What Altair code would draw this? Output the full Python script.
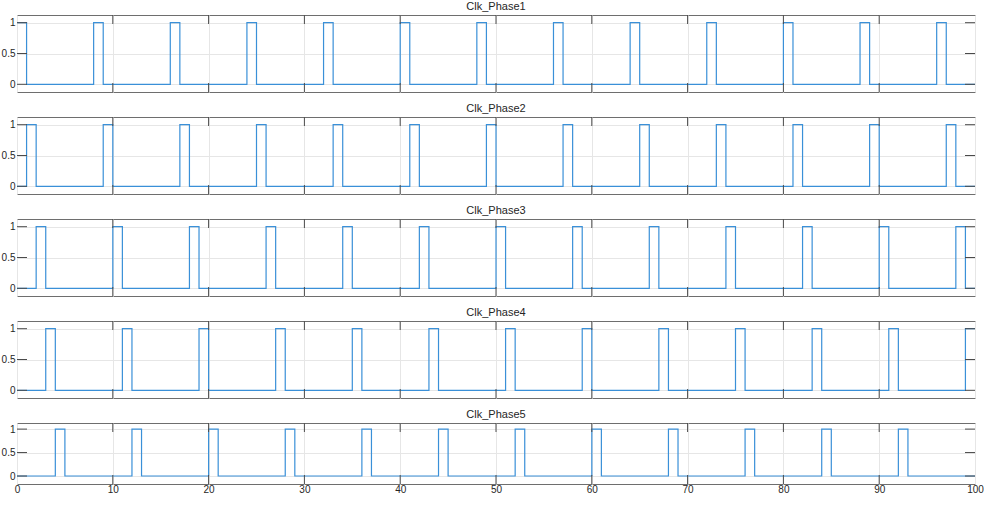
import altair as alt
import pandas as pd

# Clock phase signals: start times of each 1-unit high pulse
phase_names = ["Clk_Phase1", "Clk_Phase2", "Clk_Phase3", "Clk_Phase4", "Clk_Phase5"]
phase1_starts = [0, 8, 16, 24, 32, 40, 48, 56, 64, 72, 80, 88, 96]
phase2_starts = [1, 9, 17, 25, 33, 41, 49, 57, 65, 73, 81, 89, 97]
phase3_starts = [2, 10, 18, 26, 34, 42, 50, 58, 66, 74, 82, 90, 98]
phase4_starts = [3, 11, 19, 27, 35, 43, 51, 59, 67, 75, 83, 91, 99]
phase5_starts = [4, 12, 20, 28, 36, 44, 52, 60, 68, 76, 84, 92]
pulse_width = 1
t_end = 100

x_tick_values = [0, 10, 20, 30, 40, 50, 60, 70, 80, 90, 100]
x_inner_ticks = [10, 20, 30, 40, 50, 60, 70, 80, 90]
y_tick_values = [0, 0.5, 1]

FONT = "Liberation Sans"
LINE_COLOR = "#3a90d8"
FRAME = "#6e6e6e"
TICK = "#4a4a4a"
GRID = "#e6e6e6"
W = 958


def waveform(starts):
    rows = []
    if starts[0] > 0:
        rows.append((0, 0))
    for s in starts:
        rows.append((s, 1))
        if s + pulse_width < t_end:
            rows.append((s + pulse_width, 0))
    rows.append((t_end, rows[-1][1]))
    return pd.DataFrame(rows, columns=["t", "v"])


def panel(name, starts, height, ydom, show_x):
    x_scale = alt.Scale(domain=[0, t_end], nice=False, zero=False)
    y_scale = alt.Scale(domain=ydom, nice=False, zero=False)
    x_axis = alt.Axis(
        values=x_tick_values, grid=True, gridColor=GRID, ticks=False,
        domain=False, labels=show_x, title=None, labelFont=FONT,
        labelFontSize=10, labelColor="#262626", labelPadding=0,
        format="d", labelFlush=False,
    )
    y_axis = alt.Axis(
        values=y_tick_values, grid=True, gridColor=GRID, ticks=False,
        domain=False, title=None, labelFont=FONT, labelFontSize=10,
        labelColor="#262626", labelPadding=2, format="~r", labelFlush=False,
        minExtent=0,
    )
    x_enc = alt.X("t:Q", scale=x_scale, axis=x_axis)
    y_enc = alt.Y("v:Q", scale=y_scale, axis=y_axis)

    signal = alt.Chart(waveform(starts)).mark_line(
        interpolate="step-after", color=LINE_COLOR, strokeWidth=1.2, clip=True
    ).encode(x=x_enc, y=y_enc)

    xt = pd.DataFrame({"t": x_inner_ticks})
    top_ticks = alt.Chart(xt).mark_rule(color=TICK, strokeWidth=1).encode(
        x=x_enc, y=alt.value(0), y2=alt.value(9)
    )
    bottom_ticks = alt.Chart(xt).mark_rule(color=TICK, strokeWidth=1).encode(
        x=x_enc, y=alt.value(height - 9), y2=alt.value(height)
    )
    yt = pd.DataFrame({"v": y_tick_values})
    left_ticks = alt.Chart(yt).mark_rule(color=TICK, strokeWidth=1).encode(
        y=y_enc, x=alt.value(0), x2=alt.value(10)
    )
    right_ticks = alt.Chart(yt).mark_rule(color=TICK, strokeWidth=1).encode(
        y=y_enc, x=alt.value(W - 10), x2=alt.value(W)
    )
    return alt.layer(
        signal, top_ticks, bottom_ticks, left_ticks, right_ticks
    ).properties(
        width=W, height=height,
        title=alt.TitleParams(name, fontSize=11, font=FONT, fontWeight="normal",
                              color="#262626", anchor="middle", offset=3),
    )


all_starts = [phase1_starts, phase2_starts, phase3_starts, phase4_starts, phase5_starts]
panels = []
for i, (name, starts) in enumerate(zip(phase_names, all_starts)):
    last = i == len(phase_names) - 1
    if last:
        panels.append(panel(name, starts, 61, [-0.17, 1.13], True))
    else:
        panels.append(panel(name, starts, 77, [-0.125, 1.125], False))

chart = alt.vconcat(*panels, spacing=25, bounds="flush").properties(
    padding={"left": 0, "top": 0, "right": 0, "bottom": 12},
    background="white",
).configure_view(stroke=FRAME, strokeWidth=1).resolve_scale(y="independent")

chart.save("out.html", embed_options={"renderer": "svg", "actions": False})
